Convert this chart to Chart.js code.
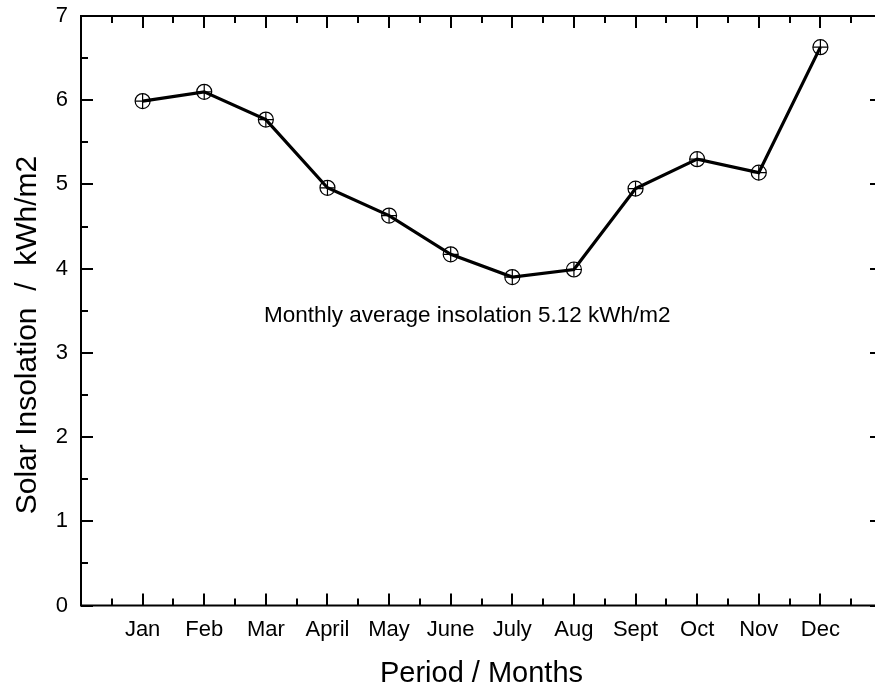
<!DOCTYPE html>
<html>
<head>
<meta charset="utf-8">
<script src="https://cdn.jsdelivr.net/npm/chart.js@4.4.1/dist/chart.umd.min.js"></script>
<style>
  html, body { margin: 0; padding: 0; background: #fff; overflow: hidden; }
  #wrap { width: 895px; height: 688px; }
</style>
</head>
<body>
<div id="wrap"><canvas id="solarChart"></canvas></div>
<script>
// monthly solar insolation
const months = ["Jan", "Feb", "Mar", "April", "May", "June", "July", "Aug", "Sept", "Oct", "Nov", "Dec"];
const monthIndex = [1, 2, 3, 4, 5, 6, 7, 8, 9, 10, 11, 12];
const insolation = [5.99, 6.10, 5.77, 4.96, 4.63, 4.17, 3.90, 3.99, 4.95, 5.30, 5.14, 6.63];

const xTitle = "Period / Months";
const yTitle = "Solar Insolation  /  kWh/m2";
const noteText = "Monthly average insolation 5.12 kWh/m2";
const noteAt = { x: 6.27, y: 3.44 };

const FONT = "'Liberation Sans', Arial, sans-serif";

const points = monthIndex.map((m, i) => ({ x: m, y: insolation[i] }));

// frame with inward ticks on all four sides, plus titles and the note
const framePlugin = {
  id: "framePlugin",
  afterDraw(chart) {
    const { ctx, chartArea: a } = chart;
    const xs = chart.scales.x;
    const ys = chart.scales.y;
    const major = 12, minor = 7;

    ctx.save();
    ctx.strokeStyle = "#000";
    ctx.lineWidth = 2;
    ctx.strokeRect(a.left, a.top, a.right - a.left, a.bottom - a.top);

    ctx.beginPath();
    for (let v = 0; v <= 13; v += 0.5) {
      const px = Math.round(xs.getPixelForValue(v));
      const len = Number.isInteger(v) ? major : minor;
      ctx.moveTo(px, a.bottom); ctx.lineTo(px, a.bottom - len);
      ctx.moveTo(px, a.top); ctx.lineTo(px, a.top + len);
    }
    for (let v = 0; v <= 7; v += 0.5) {
      const py = Math.round(ys.getPixelForValue(v));
      const len = Number.isInteger(v) ? major : minor;
      ctx.moveTo(a.left, py); ctx.lineTo(a.left + len, py);
      ctx.moveTo(a.right, py); ctx.lineTo(a.right - len, py);
    }
    ctx.stroke();

    ctx.fillStyle = "#000";
    ctx.textAlign = "center";
    ctx.textBaseline = "middle";

    ctx.font = "22.5px " + FONT;
    ctx.fillText(noteText, xs.getPixelForValue(noteAt.x), ys.getPixelForValue(noteAt.y));

    ctx.font = "29px " + FONT;
    ctx.fillText(xTitle, (a.left + a.right) / 2, 674);

    ctx.translate(28, 335);
    ctx.rotate(-Math.PI / 2);
    ctx.font = "30px " + FONT;
    ctx.fillText(yTitle, 0, 0);
    ctx.restore();
  }
};

const config = {
  type: "line",
  data: {
    datasets: [
      {
        data: points,
        borderColor: "#000",
        borderWidth: 3.2,
        pointStyle: "circle",
        pointRadius: 7.5,
        pointBorderWidth: 1.2,
        pointBorderColor: "#000",
        pointBackgroundColor: "rgba(0,0,0,0)",
        tension: 0
      },
      {
        data: points,
        showLine: false,
        pointStyle: "cross",
        pointRadius: 7.5,
        pointBorderWidth: 1.2,
        pointBorderColor: "#000"
      }
    ]
  },
  options: {
    responsive: true,
    maintainAspectRatio: false,
    animation: false,
    layout: { padding: { left: 0, top: 16, right: 13, bottom: 0 } },
    plugins: {
      legend: { display: false },
      tooltip: { enabled: false }
    },
    scales: {
      x: {
        type: "linear",
        min: 0,
        max: 13,
        border: { display: false },
        grid: { display: false, drawTicks: false },
        ticks: {
          stepSize: 1,
          autoSkip: false,
          maxRotation: 0,
          padding: 11,
          color: "#000",
          font: { family: FONT, size: 22 },
          callback: v => months[v - 1] || ""
        },
        afterFit: s => { s.height = 82.5; s.paddingLeft = 0; s.paddingRight = 0; }
      },
      y: {
        min: 0,
        max: 7,
        border: { display: false },
        grid: { display: false, drawTicks: false },
        ticks: {
          stepSize: 1,
          padding: 13,
          color: "#000",
          font: { family: FONT, size: 22 }
        },
        afterFit: s => { s.width = 81; s.paddingTop = 0; s.paddingBottom = 0; }
      }
    }
  },
  plugins: [framePlugin]
};

new Chart(document.getElementById("solarChart").getContext("2d"), config);
</script>
</body>
</html>
